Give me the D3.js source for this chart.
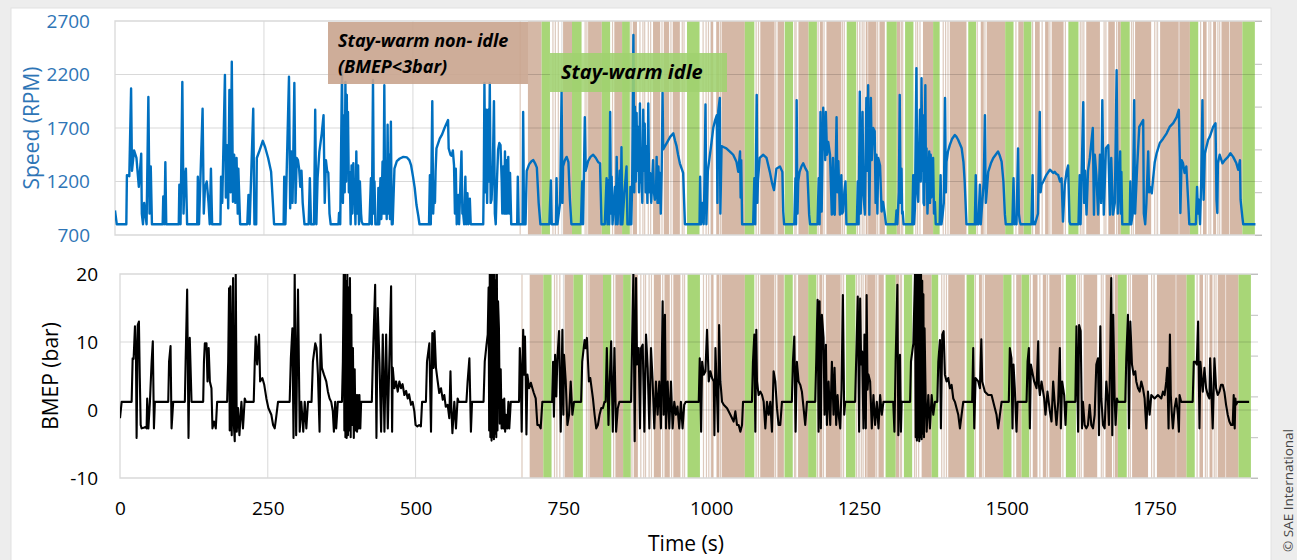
<!DOCTYPE html>
<html>
<head>
<meta charset="utf-8">
<script src="https://cdn.jsdelivr.net/npm/d3@7"></script>
<style>
  body { margin: 0; background: #ededed; }
  svg { display: block; font-family: "Open Sans", "Liberation Sans", sans-serif; }
  .tick text { font-family: "Open Sans", "Liberation Sans", sans-serif; }
</style>
</head>
<body>
<svg id="chart"></svg>
<script>
// ---- data ----
const timeTicks = [0, 250, 500, 750, 1000, 1250, 1500, 1750];
const speedTicks = [700, 1200, 1700, 2200, 2700];
const bmepTicks = [-10, 0, 10, 20];

// engine speed [time s, rpm]
const speedData = [
  [0,930],[3,800],[19,800],[20,1260],[24,1250],[27,2070],[28.5,1300],[32,1490],[36,1420],[40,1150],[44,1460],[45,900],[47,800],[49,1000],[53,800],[56,1990],[58,900],[60,1340],[62,800],
  [80,800],[81,1060],[83,800],[84.5,1380],[86,800],
  [107,800],[108,1170],[110,800],[113,2130],[115,900],[117,1230],[119,1320],[121,800],
  [138,800],[139,1245],[141,800],[147,1880],[149,900],[151,1140],[154,1200],[157,1000],[159,800],[161,1320],[163,800],
  [177,800],[178,1245],[180,1000],[184.5,2195],[186,1050],[188,1540],[190,950],[192,2055],[194,1100],[196,2320],[198,1010],[200,1450],[202,1000],[204,1420],[206,900],[207,1320],[210,800],
  [222,800],[224,1075],[226,800],[232,1880],[234,800],
  [237,800],[238,1420],[242,1480],[248,1580],[252,1520],[257,1420],[262,1290],[267,800],
  [283,800],[284,1245],[286,800],[292,2180],[294,950],[296,1480],[298,1000],[301,2120],[303,1000],[305,1420],[307,1400],[309,1320],[311,1150],[313,1300],[315,1000],[318,800],
  [325,800],[327,1230],[329,800],[334,800],[336,1870],[338,800],[340,1230],[343,1480],[347,1650],[350,1820],[352,1000],[354,1400],[356,1300],[358,1280],[360,900],[362,800],
  [375,800],[376,905],[378,800],[381,2260],[382.5,1000],[384.5,1820],[385.5,1100],[386.7,2130],[388,1200],[389,2010],[390,1300],[391,1850],[392.5,1100],[394,1290],[395.5,800],[397,1350],[398.5,900],[400,1370],[401,1000],[402,1200],[403.5,800],[405,1480],[406.5,900],[408,1350],[409.5,800],[411,1200],[413,900],[414,825],[416,800],
  [427,800],[429.5,1230],[431,800],[433,2150],[434.5,900],[435.5,1200],[437,800],[441,800],[442,1140],[443.5,800],[445.5,1230],[447,850],[449,1385],[450.5,900],[452,2100],[453.5,900],[455,1105],[456,850],[457.5,1730],[459,900],[460,1450],[461.5,850],[463,1760],[464.5,800],
  [466,800],[469,1320],[473,1390],[478,1415],[484,1430],[490,1425],[494,1400],[497,1350],[500,1250],[503,1140],[506,980],[509,880],[511,800],
  [527,800],[528.5,1260],[530,800],[532.5,1950],[534,900],[536,1200],[537,1000],[538,1290],[539.5,1510],[545,1600],[549,1640],[553,1700],[559,1775],[560,1510],[563,1450],[565,1440],[567,1490],[569,1350],[570.5,900],[572,1320],[573.5,800],[576,1075],[577.5,800],[581.5,1480],[583,900],[584.5,890],[586,800],[588,1245],[589.5,800],[591.5,1090],[593,800],[595.5,1040],[597,800],
  [618,800],[619,1250],[620,2120],[621.5,1100],[623,1870],[624.5,1000],[626.5,1870],[627.5,1200],[629,2120],[630.5,1000],[632,1030],[634,1300],[636,1950],[637.5,900],[639,800],[641,1200],[643,1500],[645,1560],[647,1540],[649,1200],[650,900],[651.5,1340],[653,900],[654.5,1480],[655.5,900],[657,1400],[658,900],[660,1430],[661.5,900],[663,1280],[665,800],
  [675,800],[676,1245],[677.5,800],[684,800],[685,1850],[686.5,800],
  [689,800],[691,1300],[695,1360],[699,1390],[702,1400],[705,1370],[708,1330],[711,1000],[714,800],
  [729,800],[731.5,1210],[733,800],[740,800],[741,1230],[742.5,800],[747,1000],[749.5,2040],[751,1000],[752,1340],[755,1400],[758,1430],[761,1380],[763.5,1030],[766,800],
  [782,800],[784,1200],[785.5,800],[787,1280],[788.5,1800],[790,1300],[794,1390],[798,1430],[802.5,1450],[807,1420],[811,1380],[814,1370],[816.5,800],
  [822,800],[825,1230],[826.5,800],[828,1210],[829.5,800],[831,1850],[832.5,900],[833.5,1245],[835,800],[839,1150],[840.5,800],[842,1430],[843.5,800],[847,1300],[848.5,800],[850,1520],[851.5,800],[855,1100],[858.5,1340],[860,800],
  [864,800],[865,1150],[866.5,800],[868,1200],[870,2570],[871.5,1100],[872.6,1900],[874,1200],[875.4,1840],[876.5,1300],[878,1710],[879.5,1100],[881,1930],[882.5,1200],[884,1180],[885,1000],[886.5,1870],[888,1300],[889,1740],[890.5,1100],[892,1530],[893.5,1000],[895,1930],[896.5,1100],[898,1280],[900,1000],[903,1400],[904.5,1100],[906,1030],[908,1100],[909,1430],[910.5,1000],[912,1340],[913.5,1000],[914.5,1280],[916,900],[917.5,1300],[919,2030],[920,1500],[924,1540],[928,1580],[932,1620],[937,1650],[940,1580],[942.5,1530],[945,1450],[948,1370],[951,1320],[953.5,1280],[956.5,800],
  [981,800],[982,1245],[983.5,800],[986,1000],[988,800],[989.5,1250],[991,1920],[992.5,800],[995,1300],[998,1430],[1001,1560],[1004,1700],[1007,1770],[1010,1820],[1011,1000],[1012.5,1860],[1015,1980],[1016,900],[1018,1530],[1022,1520],[1026,1510],[1032,1480],[1037.5,1450],[1043,1385],[1046,1290],[1049,1480],[1050,1050],[1051,1400],[1052.5,800],
  [1071,800],[1073,1230],[1074.5,800],[1077,2010],[1078,1000],[1079,1200],[1082,1420],[1088,1450],[1093.5,1420],[1099,1290],[1103,1180],[1106,1120],[1110,1320],[1116,1340],[1120,1290],[1121.5,920],[1123,800],
  [1140,800],[1142,1230],[1143,800],[1144,1960],[1145.5,900],[1146.6,1200],[1149,1290],[1152,1340],[1155,1370],[1159,1320],[1162,1290],[1165,890],[1166.5,800],
  [1179,800],[1181,1230],[1182.5,800],[1184,1850],[1185,1300],[1186,920],[1188.6,1890],[1190,1500],[1191,1670],[1192,1400],[1193,1850],[1195,1450],[1197,1570],[1200,1450],[1203,890],[1205,1420],[1206.5,900],[1208,890],[1211,1800],[1212.5,1100],[1214,1390],[1216.6,890],[1219,1260],[1220.5,900],[1222,920],[1224,1100],[1226,1200],[1227.5,800],
  [1245,800],[1246.6,1200],[1248,800],[1250,2040],[1251.5,900],[1253,1200],[1254.6,1850],[1256,1100],[1258.6,890],[1261,1980],[1262.5,1300],[1264,2100],[1266,890],[1268.6,1980],[1270,1400],[1272.5,1700],[1275,1670],[1276.5,1000],[1278,1450],[1279.5,900],[1281,1420],[1284,1350],[1286.6,920],[1289,1010],[1292,890],[1294,800],
  [1310,800],[1311.6,930],[1313,800],[1315.5,1100],[1317,2010],[1318.5,1000],[1320,1320],[1321,900],[1322,920],[1323.5,800],
  [1338,800],[1339.6,1260],[1341,800],[1342.5,950],[1345,2260],[1346.5,1100],[1348,1010],[1351,1870],[1352.3,1200],[1353.6,2165],[1355,1300],[1356,1820],[1357,1000],[1358,980],[1360,2100],[1361,1200],[1362,1510],[1363.5,900],[1365,1140],[1366.5,1480],[1367.8,1000],[1369,1450],[1370,1050],[1371,1350],[1373,1420],[1374.5,900],[1376,1010],[1377.5,800],
  [1384,800],[1385.6,1260],[1387,800],[1389,890],[1391,1000],[1393,1980],[1394.5,1100],[1395.5,1385],[1398,1480],[1401,1540],[1405,1600],[1409.5,1635],[1412,1620],[1415,1590],[1418,1550],[1421,1510],[1424,1380],[1426,1200],[1429,800],
  [1443,800],[1444.6,1260],[1446,800],[1447,825],[1449,800],[1451.5,1170],[1453,800],[1458,1200],[1460,1820],[1461.5,1000],[1463,1100],[1465.5,1290],[1470,1370],[1474,1420],[1478,1450],[1482,1480],[1485,1440],[1488,1385],[1491,1200],[1493.5,890],[1495,800],
  [1506,800],[1508,1230],[1509.5,800],[1511.6,825],[1513,800],[1515.6,1510],[1517,900],[1518.6,825],[1520,800],
  [1538,800],[1540,1260],[1541,800],[1542,825],[1544,800],[1549,900],[1552,1850],[1553.5,1100],[1555,1170],[1558,1200],[1563,1260],[1569,1310],[1574.5,1280],[1577,1290],[1580,1270],[1583,1260],[1586,1200],[1588.6,1230],[1591,825],[1592.5,1000],[1594,1170],[1597,1290],[1599.6,1350],[1602,825],[1603.5,800],
  [1617,800],[1619,1260],[1620.5,800],[1625,1940],[1626.5,1000],[1628,1300],[1630.5,890],[1633,1300],[1636,1420],[1641,1700],[1643,890],[1644.4,1450],[1647,1260],[1650,890],[1653,1450],[1655,1000],[1657,1960],[1659.5,890],[1663,1510],[1667,1540],[1670,890],[1672,1420],[1675,890],[1678,1000],[1681,2240],[1683,900],[1687,1480],[1688,900],[1689,1290],[1690.5,800],
  [1703,800],[1704,1200],[1705.5,800],[1708,900],[1710.5,1960],[1712,900],[1715.5,1340],[1719,1710],[1722,1740],[1725.6,1775],[1726.7,900],[1729,800],[1731,1000],[1734,1480],[1735.5,1100],[1737,1150],[1740,1090],[1742,1210],[1745,1380],[1748,1460],[1753.5,1560],[1759,1600],[1765,1650],[1770,1710],[1776,1745],[1781.5,1800],[1785.4,1870],[1787,1430],[1788,906],[1790,1400],[1792.5,1370],[1795,1280],[1798,1340],[1801,1030],[1803,800],
  [1814,800],[1816,1150],[1817.5,900],[1819,1030],[1821,800],[1823,1200],[1825,1960],[1827,1030],[1829,1460],[1834.6,1590],[1837.5,1620],[1843,1710],[1847,1745],[1848.6,1030],[1850,906],[1851,1370],[1854,1450],[1858.7,1370],[1862.6,1400],[1868,1430],[1872,1465],[1876.6,1430],[1882,1370],[1885,1310],[1888,1400],[1889,1030],[1892,870],[1893.5,800],[1914,800]
];

// BMEP [time s, bar]
const bmepData = [
  [0,-1.2],[2.8,1.2],[19.7,1.2],[21.4,7.6],[23,7.5],[25.3,12.3],[27,8],[28.1,-4.1],[30,12.5],[32,13.0],[33.5,4.7],[35,-2.2],[36.6,-2.7],[40,-2.6],[43,-2.5],[45,-2.7],[46,1.7],[48,-2.7],[50.6,1.2],
  [53.5,7.1],[55.5,10.1],[57.4,-2.7],[59,1.2],
  [81.6,1.2],[83,7.1],[85.5,9.4],[87.2,-2.7],[90,1.2],
  [109.7,1.2],[111,7.1],[113.6,17.7],[115.9,-4.1],[118,10.6],[121,1.2],
  [140.7,1.2],[142,7.1],[143.5,9.8],[146.3,9.8],[148,4.2],[150,9.1],[152,4.2],[154.7,3.2],[156.4,-2.7],[159,-1.7],[162,-2.7],[164.3,1.2],
  [181.2,1.2],[183,7.1],[184.5,17.9],[185.6,-3],[186.8,18.2],[189,-3.7],[191.3,19.4],[192.5,-2],[194.1,-4.6],[195.8,20],[197.5,-3.2],[199.7,0.3],[202,-3.7],[205.4,1.2],[208,-2.7],[211,1.7],[213,1.2],
  [226.2,1.2],[228,7.1],[229.5,10.8],[232,6.7],[235.2,11.1],[237,4.2],[240.8,4.7],[244,3.7],[247.6,1.7],[251,0.3],[256,-0.7],[259,-2.2],[261.7,-2.7],[264,-1.2],[267.3,1.2],
  [287,1.2],[289,7.6],[291.6,12.0],[293.5,-4.1],[295.5,20],[298,-3.7],[301.1,17.7],[304,-3.2],[306.7,1.2],[310,-3.2],[312.5,1.2],[315.2,-2.7],[318,1.2],
  [324,1.2],[326.3,7.1],[330.3,9.8],[332.5,9.1],[334.8,5.2],[337.6,-3.2],[339.3,11.1],[341.5,6.2],[345,5.2],[348.9,4.2],[351.7,2.7],[354.5,1.7],[357.3,1.2],[360,-0.2],[361.8,-3.2],[364,1.2],[365.7,-2.7],[368.5,1.2],
  [375.5,1.2],[377,7.1],[378.5,20],[379.5,-3],[380.5,20],[381.3,-4],[382.2,19],[383.4,-4.1],[384.5,20],[385.6,-3.7],[386.7,18],[387.8,-3],[389,19.4],[390.2,-4],[391.3,14],[392.5,-2.2],[394,9.1],[395.5,-4.1],[397,6],[398.3,-3],[399.5,2.2],[401,-3.2],[402.3,2.2],[403.6,-2.7],[405,2.2],[406.5,-2.7],[407.9,1.2],
  [426,1.2],[427.6,7.1],[431.6,18.4],[433.8,-4.1],[436,15],[438.9,7.1],[441.7,-3.2],[444.5,11.1],[447.3,-3.2],[450.2,11.1],[453,-2.7],[455.8,8.1],[458.6,18.2],[460.3,-3.2],[461.4,6.2],[464.2,3.2],[467,4.2],[469.8,2.7],[472.6,4.2],[475.4,3.2],[478,3.8],[481,2.2],[484,2.8],[486.7,1.7],[489,2.3],[492.3,0.76],[495,1.2],[497.9,-0.2],[500,-2.2],[503,-2.4],[506,-2.2],[509,-2.4],[511,1.2],
  [517.5,1.2],[519.3,7.1],[523.3,9.8],[526.1,-3.2],[528.3,11.3],[530.6,6.2],[532,11.6],[534.5,6.2],[537.4,4.2],[540,2.5],[543,3.2],[546,1.5],[548.6,2.2],[551,0.5],[554.3,0.76],[557,-1.2],[559,5.7],[560.5,0.27],[562.3,-3.4],[565.5,1.2],[568.3,-2.7],[571.1,1.7],[573,1.2],
  [586,1.2],[588,4.2],[591,7.6],[593.6,-3.2],[595.5,1.2],
  [615,1.2],[617,7.1],[620,9.6],[622,11.1],[623.5,18],[624.5,-3],[625.5,20],[626.5,-4],[627.5,20],[628.5,-4.5],[629.5,20],[630.5,-4],[631.5,20],[632.5,-4.3],[633.5,20],[634.5,-3.5],[635.5,19],[636.5,-4],[637.5,20],[638.5,-3],[639.5,16],[641,12],[642.5,-2],[644,6],[645.5,-2.7],[647,1.5],[648.5,-2.7],[650,1.7],[651.5,-3.2],[653,-0.7],[655,-2.7],[657,1.2],[658.5,-2.7],[661,1.2],
  [675,1.2],[676.3,9.1],[678,5.7],[679.5,-3.2],[681,6.7],[682,11.8],[683.6,5.2],[685,10.8],[686.4,4.2],[687.5,-3.6],[689.2,5.2],[692,3.2],[695,4],[697.6,3.2],[700,2.5],[703.2,1.7],[706,-2.2],[708.8,-2.2],[711.6,-2.7],[714.4,1.2],
  [731,1.2],[732.6,7.1],[734,-1],[736,8.1],[738,2],[739.9,7.6],[742.7,11.6],[745.5,-3.2],[748.3,11.8],[750,-0.7],[751.1,8.1],[754,4.2],[756.8,-2.2],[759.6,-0.7],[762.4,4.2],[765.2,-0.7],[768,1.2],
  [780,1.2],[781.9,7.1],[785.9,10.3],[787.6,9.1],[789.8,10.6],[793.2,4.2],[795.5,4.7],[800,1.7],[802.8,-0.7],[805.6,-2.7],[808.4,-2.2],[811.2,-0.7],[814,0.27],[816.8,0.27],[819.6,1.2],
  [821.5,1.2],[823.5,9.1],[826.3,-2.2],[828,3.2],[830.8,10.1],[833.6,-3.2],[836.4,9.1],[839.2,-3.2],[842,0.27],[844.8,1.2],
  [864.5,1.2],[866.1,9.1],[868.4,20],[870.6,-4.6],[872.9,19.4],[874.6,6.7],[877.4,9.1],[879.6,-2.7],[881.3,9.1],[884.2,9.6],[887,-3.2],[889.8,11.1],[892.6,6.2],[895.4,-2.7],[898.2,9.1],[901,4.2],[903.8,-2.7],[906.6,4.2],[909.4,-0.7],[912.2,4.2],[915,-2.7],[917.9,16.0],[919.6,-0.7],[921.8,14.0],[923.5,-2.7],[926.4,4.2],[929.2,-2.7],[932,4.2],[934.8,-2.7],[937.6,1.2],[940.4,-0.7],[943,0.5],[946,-2.7],[948.8,1.2],[951.6,-2.7],[954.4,0.76],[957.2,1.2],
  [979,1.2],[980.7,7.6],[983,-3.2],[984.7,7.1],[987.5,5.2],[990.3,5.7],[993,11.8],[995.9,4.2],[998.7,5.7],[1001.5,4.7],[1004.4,4.2],[1005.5,-3.7],[1007.2,9.1],[1010,1.7],[1011.7,-3.2],[1013.4,12.5],[1015.6,4.2],[1018.4,1.2],[1021.2,0.76],[1026.9,0.27],[1032.5,-0.7],[1038,-1.7],[1040.9,-0.2],[1043.7,-2.2],[1046.5,-2.2],[1049.4,-3.2],[1052.2,-2.2],[1053.9,1.2],
  [1069,1.2],[1070.7,7.1],[1073,11.1],[1074.7,-3.2],[1076.4,11.8],[1077.5,4.2],[1080.3,2.2],[1083.2,2.7],[1086,2.2],[1088.8,1.2],[1091.6,-2.7],[1094.4,1.2],[1097.2,-0.7],[1100,1.2],[1102.8,-3.2],[1105.6,5.7],[1108.5,4.2],[1111.3,0.27],[1114,-2.2],[1116.9,-2.2],[1119.7,1.2],
  [1136.5,1.2],[1138.3,7.1],[1140.6,10.8],[1142.8,-3.2],[1145,7.1],[1147.9,4.2],[1150.7,3.7],[1153.5,2.7],[1156.3,0.27],[1159.1,-2.2],[1162,1.2],
  [1176,1.2],[1177.7,7.1],[1180,16.2],[1181.7,-3.2],[1183.4,16.0],[1185.6,-2.7],[1187.3,14.0],[1190.1,10.6],[1191.8,-0.7],[1194.1,9.6],[1195.8,-2.2],[1198.6,4.2],[1201.4,-2.2],[1204.2,7.1],[1207,-0.7],[1208.7,6.2],[1211.5,-2.2],[1213.8,2.2],[1216,-1],[1218.3,-2.7],[1220.5,3],[1222.8,16.9],[1225,-0.7],[1226.8,1.2],
  [1243.5,1.2],[1245.2,7.1],[1248,16.7],[1250.3,-3.2],[1252,16.4],[1253.7,6.7],[1255.4,8.6],[1257.6,-2.7],[1259.3,11.1],[1261.6,-2.7],[1263,16.9],[1264.5,3],[1266.1,5.2],[1268.9,4.2],[1271.7,-2.7],[1274.5,2.2],[1277.3,-2.2],[1280.2,1.2],[1283,-2.7],[1285.8,2.2],[1288.6,-0.7],[1291.4,1.2],
  [1308,1.2],[1310,-3.2],[1312,7.1],[1315,18.4],[1316.6,-3.7],[1319.4,8.1],[1321,-3.2],[1322.2,1.2],
  [1336.5,1.2],[1338,7.1],[1342,9.8],[1344.8,20],[1346,-4],[1347,20],[1348,-4.5],[1349,20],[1350,-4],[1351,20],[1352,-4.6],[1353,20],[1354,-4],[1355,20],[1356,-4.3],[1357,19],[1358,-3.5],[1359,17],[1360,-4],[1361,12],[1362.8,1.7],[1364.5,-3.2],[1367.3,2.2],[1370,-2.7],[1373,2.2],[1375.7,-0.7],[1378.5,1.2],
  [1382.5,1.2],[1384.2,7.1],[1387,10.3],[1388.6,-2.7],[1390.9,11.1],[1393.2,11.6],[1395.4,5.2],[1398.2,4.2],[1401,4.7],[1403.9,3.2],[1406.7,3.7],[1409.5,1.7],[1412.3,1.2],[1415.1,0.27],[1418,-0.7],[1420.8,-2.7],[1423.6,-0.7],[1426.4,1.2],
  [1441.5,1.2],[1443.3,9.1],[1445,-2.7],[1447.3,4.7],[1451.8,4.2],[1454.6,3.2],[1457,10.4],[1458.5,4.2],[1463,2.7],[1468.7,2.2],[1474.3,2.2],[1479.9,0.27],[1482.7,-0.7],[1485.5,-2.7],[1488.4,-0.7],[1491.2,1.2],
  [1503.5,1.2],[1505.2,9.1],[1508,7.6],[1509.7,-2.7],[1511.4,6.7],[1513.6,3.2],[1516.5,-3.2],[1518.2,1.2],
  [1533.5,1.2],[1535.2,7.1],[1537.4,9.1],[1539.1,-2.7],[1540.8,6.7],[1543,5.7],[1546.4,4.2],[1550.4,3.2],[1553.2,10.1],[1554.3,3.7],[1556,2.2],[1558.8,4.2],[1563.3,1.7],[1565.5,-0.7],[1568.9,2.7],[1572.9,-0.2],[1575.7,-1.7],[1578.5,4.2],[1581.3,0.76],[1584.1,-2.2],[1587,1.2],[1589.8,9.1],[1591.5,-2.7],[1593.7,4.2],[1597.1,2.2],[1599.4,-2.2],[1601,1.2],
  [1616,1.2],[1617.9,12.3],[1620.7,-3.2],[1622.4,12.5],[1625,11.6],[1627.3,-2.7],[1628.9,1.2],[1631.8,-2.2],[1634.6,-2.7],[1637.4,-2.2],[1640.2,0.76],[1643,-2.2],[1645.9,-2.7],[1648.7,-0.7],[1651.5,6.7],[1654.3,7.6],[1656,-3.7],[1658.3,12.3],[1660,1.7],[1662.8,-2.2],[1665.6,-2.7],[1668.4,4.2],[1671.2,1.2],[1672.9,-2.2],[1675.2,9.1],[1676.8,19.4],[1678.5,-3.7],[1680.2,14.0],[1682.5,1.7],[1684.1,-2.2],[1686.4,1.7],[1688.1,1.2],
  [1700.5,1.2],[1702.2,7.6],[1705,14.0],[1706.7,-2.7],[1709,13.0],[1711.8,6.7],[1714.6,5.2],[1717.4,5.7],[1719.1,4.2],[1722,3.2],[1724.8,2.7],[1727.6,4.2],[1730.4,3.2],[1733.2,1.7],[1736,-2.7],[1738.9,2.7],[1741.7,-0.7],[1744.5,2.2],[1750.1,1.7],[1755.7,2.2],[1761.4,1.7],[1764.2,2.7],[1767,2.2],[1769.8,4.2],[1771.5,6.2],[1773.7,-2.7],[1776,11.1],[1777.5,2.2],[1779,-0.2],[1781,-2.7],[1783.9,0.27],[1786.7,1.7],[1789.5,-0.7],[1791.2,-3.2],[1792.3,2.2],[1795,1.2],
  [1814.5,1.2],[1816.4,7.1],[1819.2,7.1],[1821.4,6.7],[1823.7,13.0],[1826,-2.7],[1827.6,7.1],[1829.9,4.2],[1831.6,2.7],[1834.4,6.2],[1837.2,3.2],[1840,2.2],[1842.8,1.7],[1844,7.6],[1845.6,4.2],[1848.4,-2.7],[1851.3,7.6],[1854.1,3.2],[1856.9,2.2],[1859.7,2.7],[1862.5,3.7],[1865.3,3.7],[1868.1,2.7],[1871,0.76],[1873.8,-0.7],[1876.6,-1.7],[1879.4,-2.2],[1882.2,-2.2],[1883.9,2.2],[1885.6,-2.7],[1886.7,1.7],[1887.8,0.76],[1890.6,1.2],[1910,1.2]
];

// stay-warm periods [start s, end s]
const nonIdleBands = [
  [693,716],[752,767],[794,817],[838,851],[869,876],[903,915],[921,930],[936,948],[1000,1004],[1009,1014],[1018,1057],[1083,1107],[1112,1123],[1147,1164],[1183,1188],[1194,1219],[1260,1263],[1264,1278],[1283,1292],[1312,1318],[1356,1373],[1401,1429],[1453,1458],[1463,1494],[1516,1525],[1544,1552],[1561,1567],[1572,1592],[1630,1653],[1667,1678],[1683,1688],[1712,1739],[1754,1785],[1787,1804],[1826,1832],[1843,1848],[1857,1870],[1871,1892]
];
const idleBands = [
  [716,730],[767,783],[817,831],[851,864],[960,981],[1057,1073],[1124,1138],[1164,1178],[1228,1244],[1295,1312],[1326,1340],[1373,1384],[1432,1445],[1494,1508],[1525,1538],[1600,1617],[1688,1703],[1804,1818],[1892,1913]
];
// very short non-idle moments (hairlines)
const blips = [680,735,739,744,789,792,835,866,881,886,889,895,899,918,933,952,955,987,992,996,1016,1076,1080,1109,1141,1143,1180,1190,1221,1224,1246,1250,1254,1257,1280,1320,1322,1344,1347,1351,1390,1394,1398,1447,1460,1512,1540,1556,1569,1595,1620,1623,1626,1660,1663,1681,1706,1709,1745,1749,1786,1822,1836,1839,1851,1854];

// ---- drawing ----
const W = 1297, H = 560;
const TMAX = 1925;
const BLUE_LINE = "#0070c0", BLUE_TEXT = "#2e75b6";
const BROWN = "#d5b8a6", GREEN = "#a8d677", BLIP = "#dcc9bc";
const GRID = "#d9d9d9";
const plain = d => String(d).replace("\u2212", "-");

const svg = d3.select("#chart").attr("width", W).attr("height", H);

svg.append("rect").attr("width", W).attr("height", H).attr("fill", "#ededed");
svg.append("rect").attr("x", 11).attr("y", 8).attr("width", 1260).attr("height", H)
  .attr("fill", "#fff").attr("stroke", "#e2e2e2");

const xTop = d3.scaleLinear().domain([0, TMAX]).range([115, 1262]);
const yTop = d3.scaleLinear().domain([700, 2700]).range([235, 21]);
const xBot = d3.scaleLinear().domain([0, TMAX]).range([120, 1258]);
const yBot = d3.scaleLinear().domain([-10, 20]).range([478, 274]);

function drawPanel(name, x, y, yTicks) {
  const [x0, x1] = x.range();
  const [yb, yt] = y.range();
  const g = svg.append("g").attr("class", name);

  g.append("clipPath").attr("id", "clip-" + name)
    .append("rect").attr("x", x0).attr("y", yt).attr("width", x1 - x0).attr("height", yb - yt);

  // vertical grid (under the bands)
  g.selectAll(".vgrid").data(timeTicks.slice(1)).join("line")
    .attr("class", "vgrid")
    .attr("x1", d => x(d)).attr("x2", d => x(d))
    .attr("y1", yt).attr("y2", yb)
    .attr("stroke", GRID);

  g.selectAll(".blip").data(blips).join("line")
    .attr("class", "blip")
    .attr("x1", d => x(d)).attr("x2", d => x(d))
    .attr("y1", yt).attr("y2", yb)
    .attr("stroke", BLIP).attr("stroke-width", 1.2);

  g.selectAll(".nonidle").data(nonIdleBands).join("rect")
    .attr("class", "nonidle")
    .attr("x", d => x(d[0])).attr("width", d => x(d[1]) - x(d[0]))
    .attr("y", yt).attr("height", yb - yt)
    .attr("fill", BROWN);

  g.selectAll(".idle").data(idleBands).join("rect")
    .attr("class", "idle")
    .attr("x", d => x(d[0])).attr("width", d => x(d[1]) - x(d[0]))
    .attr("y", yt).attr("height", yb - yt)
    .attr("fill", GREEN);

  // horizontal grid over the bands
  g.selectAll(".hgrid").data(yTicks.slice(1, -1)).join("line")
    .attr("class", "hgrid")
    .attr("x1", x0).attr("x2", x1)
    .attr("y1", d => y(d)).attr("y2", d => y(d))
    .attr("stroke", "rgba(0,0,0,0.15)");

  // frame
  g.append("path")
    .attr("d", `M${x1},${yt}H${x0}V${yb}H${x1}`)
    .attr("fill", "none").attr("stroke", GRID).attr("stroke-width", 1.3);

  // secondary axis ticks on the right (no labels)
  const sec = d3.scaleLinear().domain([0, 5]).range([yb, yt]);
  const ra = g.append("g").attr("transform", `translate(${x1},0)`)
    .call(d3.axisRight(sec).tickValues(d3.range(0, 6)).tickSize(-7).tickFormat(""));
  ra.select(".domain").remove();
  ra.selectAll("line").attr("stroke", "#bfbfbf");

  return g;
}

const gTop = drawPanel("top", xTop, yTop, speedTicks);
const gBot = drawPanel("bot", xBot, yBot, bmepTicks);

gTop.append("path")
  .datum(speedData)
  .attr("clip-path", "url(#clip-top)")
  .attr("fill", "none")
  .attr("stroke", BLUE_LINE)
  .attr("stroke-width", 2.4)
  .attr("stroke-linejoin", "round")
  .attr("d", d3.line().x(d => xTop(d[0])).y(d => yTop(d[1])));

gBot.append("path")
  .datum(bmepData)
  .attr("clip-path", "url(#clip-bot)")
  .attr("fill", "none")
  .attr("stroke", "#000")
  .attr("stroke-width", 2.1)
  .attr("stroke-linejoin", "round")
  .attr("d", d3.line().x(d => xBot(d[0])).y(d => yBot(d[1])));

// axes
const ayTop = svg.append("g").attr("transform", "translate(115,0)")
  .call(d3.axisLeft(yTop).tickValues(speedTicks).tickSize(0).tickPadding(25).tickFormat(plain));
ayTop.select(".domain").remove();
ayTop.selectAll("text").attr("fill", BLUE_TEXT).style("font-size", "19px");

const ayBot = svg.append("g").attr("transform", "translate(120,0)")
  .call(d3.axisLeft(yBot).tickValues(bmepTicks).tickSize(0).tickPadding(22).tickFormat(plain));
ayBot.select(".domain").remove();
ayBot.selectAll("text").attr("fill", "#000").style("font-size", "19px");

const axBot = svg.append("g").attr("transform", "translate(0,478)")
  .call(d3.axisBottom(xBot).tickValues(timeTicks).tickSize(0).tickPadding(24).tickFormat(plain));
axBot.select(".domain").remove();
axBot.selectAll("text").attr("fill", "#000").style("font-size", "19px");

// axis titles
svg.append("text")
  .attr("transform", "translate(31,128) rotate(-90)")
  .attr("text-anchor", "middle").attr("dominant-baseline", "central")
  .attr("fill", BLUE_TEXT).style("font-size", "21px")
  .text("Speed (RPM)");

svg.append("text")
  .attr("transform", "translate(50,376) rotate(-90)")
  .attr("text-anchor", "middle").attr("dominant-baseline", "central")
  .attr("fill", "#000").style("font-size", "21px")
  .text("BMEP (bar)");

svg.append("text")
  .attr("x", 686).attr("y", 543)
  .attr("text-anchor", "middle").attr("dominant-baseline", "central")
  .attr("fill", "#000").style("font-size", "21px")
  .text("Time (s)");

// annotations
svg.append("rect")
  .attr("x", 328).attr("y", 22).attr("width", 200).attr("height", 62)
  .attr("fill", "#c9a48e").attr("opacity", 0.9);
const note1 = svg.append("text")
  .attr("fill", "#000").style("font-size", "18px")
  .style("font-weight", "bold").style("font-style", "italic");
note1.append("tspan").attr("x", 338).attr("y", 47).text("Stay-warm non- idle");
note1.append("tspan").attr("x", 338).attr("y", 73).text("(BMEP<3bar)");

svg.append("rect")
  .attr("x", 550).attr("y", 53).attr("width", 177).attr("height", 39)
  .attr("fill", "#9fd16f").attr("opacity", 0.88);
svg.append("text")
  .attr("x", 561).attr("y", 79)
  .attr("fill", "#000").style("font-size", "20px")
  .style("font-weight", "bold").style("font-style", "italic")
  .text("Stay-warm idle");

svg.append("text")
  .attr("transform", "translate(1293,552) rotate(-90)")
  .attr("fill", "#444").style("font-size", "13.5px")
  .text("© SAE International");
</script>
</body>
</html>
